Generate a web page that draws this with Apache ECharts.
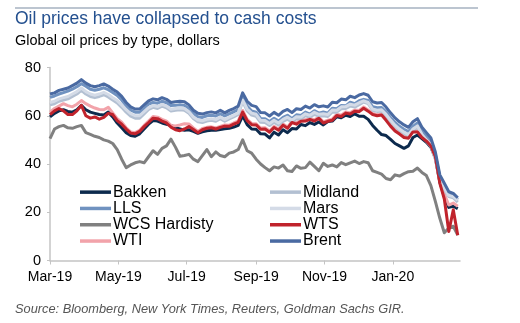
<!DOCTYPE html>
<html>
<head>
<meta charset="utf-8">
<script src="https://cdn.jsdelivr.net/npm/echarts@6/dist/echarts.min.js"></script>
<style>
  html, body { margin: 0; padding: 0; background: #ffffff; }
  #chart { width: 520px; height: 323px; }
</style>
</head>
<body>
<div id="chart"></div>
<script>
// Horizontal scale: days since 1 March 2019, one observation every 4 days
const stepDays = 4;
const axisEndDay = 366;                       // 1 March 2020
const tickDays = [0, 61, 122, 184, 245, 306]; // first day of every other month
const tickLabels = ['Mar-19', 'May-19', 'Jul-19', 'Sep-19', 'Nov-19', 'Jan-20'];
const yTicks = [0, 20, 40, 60, 80];

// Prices in dollars per barrel
const bakken = [59.5,61,62,62.5,61.8,61.5,62.5,64.3,62.5,61.5,
  61,60.5,60.3,61.5,59.5,57,55,53,51.8,51.5,
  52.5,54.5,56.5,58,57.8,57,56.5,56,55,54.5,
  54,54.2,53.5,52.7,53.3,53.8,54,54,54.3,54.6,
  54.8,55.3,56,60,56.3,54.5,54.4,52.5,52.4,50.8,
  53.2,52,54.2,53,54.7,54.5,56.4,55.9,57.2,56.4,
  57.4,56.2,57.6,57.8,59.6,59.2,60.2,59.7,60.8,59.8,
  59.8,58.5,56,54,52.2,51.8,50.2,48.5,47.5,46.5,
  47.5,51,52,50.5,49,47,42.5,32.5,26.5,22,
  22.5,21.5];
const lls = [67.6,68.2,69,69.6,70.2,71,72,73.3,72.2,71,
  70.6,71,71.6,70.8,69.6,68.4,66.5,64,62.3,61.5,
  61.4,63,64.8,65.5,65.2,66,65.4,64.2,64.3,64.6,
  64.3,63,61,59.6,59.3,60,60.2,59.9,60.8,59.9,
  60.8,61.6,62.5,68,64,62,61.5,58.9,58.8,57.6,
  59,57.8,59.3,60.2,58.8,60.4,60.1,61.5,60.7,62.1,
  61.1,61.6,61.1,63.1,62.9,64.3,64.1,65.6,65,66.2,
  66.8,66.3,63.8,63.3,63.4,61.6,59.2,57.2,55.6,54.4,
  53.4,55.6,57,53.5,51.3,49.2,43.8,34.5,31,27.6,
  27,25.2];
const wcsHardisty = [50.5,54.5,55.5,56,55,54.8,55.5,56,53,52.3,
  51.5,51,50,49.5,48.5,46,42,38.5,39.6,40.5,
  41,40.5,43,45.5,44,46.5,47.5,50.3,47,43.2,
  43.5,44,42,41,43.5,46,43,45,43.5,43,
  44.5,45,46,50,45.5,44.5,42,40,38.5,37.2,
  38.8,38.3,39.6,37.2,36.9,39.2,38.2,38.5,40.8,39,
  37.2,40.3,39,39.6,38.8,40.6,39.7,40.5,41.2,40.2,
  41,40.5,37.2,36.5,35.8,34,33.5,35.5,35,36,
  36.8,37,38.3,36.5,35.2,31,24.5,17.5,11.5,13.5,
  14.2,10.5];
const wti = [61.5,63,64,65,64.2,63.7,64.8,66.3,65,64,
  63.2,62.6,62.5,63.5,61.2,58.8,57.3,55,53.3,53,
  54,56,57.8,59.7,59.4,58.5,57.8,56,55.8,56.2,
  56.7,56.6,55,53.5,54.7,55.2,55.4,55,55.6,56.2,
  56.1,57,57.8,62.2,58.5,56.8,56.7,54.9,55,53.7,
  55.6,54.5,56.6,55.3,57.7,57,58.2,58.3,59,58.3,
  59.4,57.5,58.2,58.6,60.6,60.2,61.6,61.2,62.4,62.2,
  63.6,62.4,61,60.5,60.8,58.6,56.2,54.2,52.9,51.5,
  51.2,53.8,53.8,51.5,50,48.2,44,33.5,27.5,23,
  23.8,22.5];
const midland = [64.5,65,66,66.5,67,68,69,70.5,69,68,
  67.5,68,68.7,67.8,66.5,65.3,63.5,61.5,59.8,59,
  59,60.8,62.6,63.5,63,64,63.3,62,62.3,62.5,
  62.3,61,58.8,57.5,57.2,57.8,58.1,57.7,58.8,57.7,
  58.7,59.5,60.5,66,62,60.3,59.8,57.3,57.2,56,
  57.3,56.2,57.7,58.6,57.4,58.8,58.7,60,59.4,60.6,
  59.8,60,59.7,61.6,61.5,62.9,63,64,63.6,64.6,
  65.7,65,62.3,61.8,62,60.1,57.7,55.6,54,52.7,
  51.7,54,55.3,51.8,49.5,47.3,42,33,29.5,26.5,
  26,24.2];
const mars = [65.5,66,67,67.5,68,69,70,71.5,70,69,
  68.5,69,69.7,68.8,67.5,66.3,64.5,62.5,60.9,60,
  60,61.7,63.4,64.2,63.8,64.7,64,62.7,63,63.2,
  63,61.7,59.5,58.2,57.9,58.5,58.8,58.4,59.5,58.4,
  59.4,60.2,61.2,66.5,62.8,61.1,60.6,58.1,58,56.8,
  58.1,57,58.5,59.4,58.2,59.6,59.5,60.8,60.2,61.4,
  60.6,60.8,60.5,62.4,62.3,63.7,63.8,64.8,64.4,65.4,
  66.2,65.5,62.8,62.3,62.5,60.6,58.2,56.1,54.5,53.2,
  52.2,54.5,55.8,52.3,50,47.8,42.5,33.5,30,27,
  26.5,25];
const wts = [60.5,62,63,62,60.5,60.5,62,64.3,60,59,
  59.5,58.6,59.3,61,60.5,58,56.5,54.5,52.8,52.5,
  53.5,55.5,57.2,59,58.8,57.8,57,55.3,54.2,53.8,
  54.5,55.5,54.3,53,54.2,54.8,55,54.5,55.2,55.7,
  55.6,56.5,57.3,61.5,58,56.3,56.2,54.4,54.5,53.2,
  55.1,54,56.1,54.8,57.2,56.5,57.7,57.8,58.5,57.8,
  58.9,57,57.7,58.1,60.1,59.7,61.1,60.7,61.9,61.7,
  63.1,61.9,60.5,60,60.3,58.1,55.7,53.7,52.4,51,
  50.7,53.3,53.3,51,49.5,47.5,43,32,25.5,12,
  21,10.5];
const brent = [69,69.5,70.5,71,71.5,72.5,73.5,75,73.5,72.5,
  72,72.5,73.2,72.3,71,69.8,68,65.5,63.7,62.8,
  62.8,64.5,66.2,67,66.6,67.5,66.8,65.5,65.8,66,
  65.8,64.5,62.3,61,60.7,61.3,61.6,61.2,62.3,61.2,
  62.2,63,64,69.5,66,64.3,63.8,61.3,61.2,59.9,
  61.4,60.2,61.8,62.6,61.3,62.9,62.6,64,63.2,64.6,
  63.7,64.1,63.6,65.6,65.4,66.9,66.6,68.1,67.5,68.6,
  69.2,68.5,65.8,65.3,65.5,63.6,61.2,59.1,57.5,56.2,
  55.2,57.5,58.8,55.3,53,50.8,45,35.5,32,28.5,
  27.8,26];

const seriesDefs = [
  { name: 'Bakken',       values: bakken,      color: '#0c2a4d' },
  { name: 'LLS',          values: lls,         color: '#7092c0' },
  { name: 'WCS Hardisty', values: wcsHardisty, color: '#808080' },
  { name: 'WTI',          values: wti,         color: '#f2a3aa' },
  { name: 'Midland',      values: midland,     color: '#b3c0d2' },
  { name: 'Mars',         values: mars,        color: '#d4dbe7' },
  { name: 'WTS',          values: wts,         color: '#c0232c' },
  { name: 'Brent',        values: brent,       color: '#4a6aa2' }
];

const days = brent.map((_, i) => i * stepDays);

const FONT = '"Liberation Sans", Arial, Helvetica, sans-serif';

const legendCommon = {
  orient: 'vertical',
  top: 184,
  itemWidth: 31,
  itemHeight: 3.5,
  itemGap: 0,
  icon: 'rect',
  selectedMode: false,
  padding: 0,
  textStyle: {
    fontFamily: FONT,
    fontSize: 16,
    color: '#000000',
    lineHeight: 16.3,
    padding: [0, 0, 0, -3]
  }
};

const chart = echarts.init(document.getElementById('chart'), null, { renderer: 'canvas' });

chart.setOption({
  animation: false,
  backgroundColor: '#ffffff',
  graphic: [
    {
      type: 'line',
      shape: { x1: 15, y1: 8, x2: 478, y2: 8 },
      style: { stroke: '#7b8ba1', lineWidth: 1.2 }
    },
    {
      type: 'text',
      left: 15, top: 10,
      style: {
        text: 'Oil prices have collapsed to cash costs',
        fontFamily: FONT, fontSize: 17.5, fill: '#24508f'
      }
    },
    {
      type: 'text',
      left: 15, top: 33,
      style: {
        text: 'Global oil prices by type, dollars',
        fontFamily: FONT, fontSize: 14.5, fill: '#000000'
      }
    },
    {
      type: 'text',
      left: 15, top: 303,
      style: {
        text: 'Source: Bloomberg, New York Times, Reuters, Goldman Sachs GIR.',
        fontFamily: FONT, fontSize: 12.8, fontStyle: 'italic', fill: '#555555'
      }
    }
  ],
  legend: [
    Object.assign({}, legendCommon, {
      left: 80,
      data: ['Bakken', 'LLS', 'WCS Hardisty', 'WTI']
    }),
    Object.assign({}, legendCommon, {
      left: 270,
      data: ['Midland', 'Mars', 'WTS', 'Brent']
    })
  ],
  grid: {
    left: 50, right: 60, top: 67.5, bottom: 62.5,
    containLabel: false,
    outerBoundsMode: 'none'
  },
  xAxis: {
    type: 'value',
    min: 0,
    max: axisEndDay,
    axisLine: { show: true, onZero: false, lineStyle: { color: '#c4c4c4', width: 1.5 } },
    axisTick: {
      show: true, length: 4, inside: false,
      customValues: tickDays,
      lineStyle: { color: '#c4c4c4', width: 1 }
    },
    axisLabel: {
      customValues: tickDays,
      margin: 10,
      fontFamily: FONT, fontSize: 14, color: '#000000',
      formatter: function (v) {
        const k = tickDays.indexOf(v);
        return k >= 0 ? tickLabels[k] : '';
      }
    },
    splitLine: { show: false }
  },
  yAxis: {
    type: 'value',
    min: yTicks[0],
    max: yTicks[yTicks.length - 1],
    interval: yTicks[1] - yTicks[0],
    axisLine: { show: true, lineStyle: { color: '#c4c4c4', width: 1.5 } },
    axisTick: { show: true, length: 3, lineStyle: { color: '#c4c4c4' } },
    axisLabel: { margin: 9, fontFamily: FONT, fontSize: 14.5, color: '#000000' },
    splitLine: { show: false }
  },
  series: seriesDefs.map(s => ({
    name: s.name,
    type: 'line',
    data: s.values.map((v, i) => [days[i], v]),
    showSymbol: false,
    symbol: 'none',
    color: s.color,
    itemStyle: { color: s.color },
    lineStyle: { color: s.color, width: 3, join: 'round' },
    emphasis: { disabled: true }
  }))
});
</script>
</body>
</html>
